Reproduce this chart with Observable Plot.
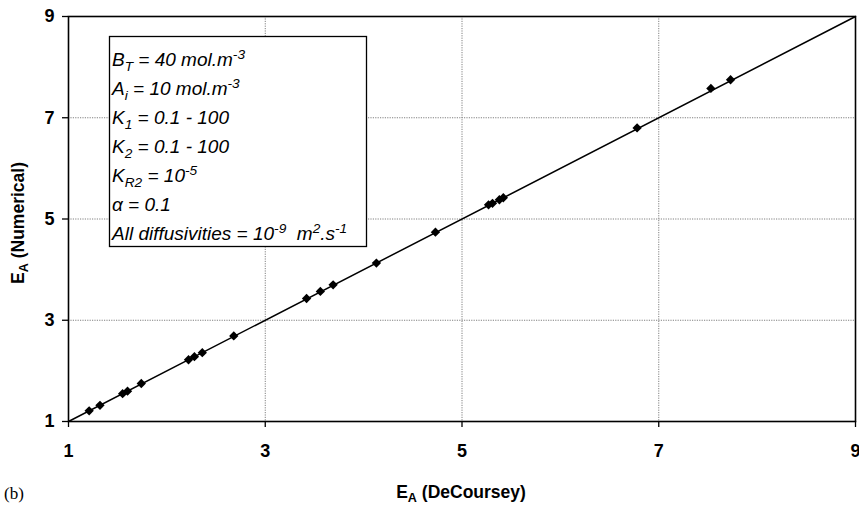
<!DOCTYPE html>
<html><head><meta charset="utf-8">
<script src="https://cdn.jsdelivr.net/npm/d3@7"></script>
<script src="https://cdn.jsdelivr.net/npm/@observablehq/plot@0.6"></script>
<style>body{margin:0;background:#fff} svg{display:block}</style>
</head><body><div id="chart"></div>
<script>
// Data
const decoursey = [1.21,1.32,1.55,1.60,1.74,2.22,2.28,2.36,2.68,3.42,3.56,3.69,4.13,4.73,5.27,5.31,5.38,5.42,6.78,7.53,7.73];
const numerical = [1.21,1.32,1.55,1.60,1.75,2.22,2.28,2.36,2.69,3.43,3.57,3.70,4.13,4.74,5.28,5.31,5.38,5.42,6.80,7.58,7.75];
const parityLine = [1, 9];
const tickValues = [1, 3, 5, 7, 9];
const gridValues = [3, 5, 7];
const xLabel = [["E",""],["A","sub"],[" (DeCoursey)",""]];
const yLabel = [["E",""],["A","sub"],[" (Numerical)",""]];
const panelTag = "(b)";
const legendLines = [
  [["B",""],["T","sub"],[" = 40 mol.m",""],["-3","sup"]],
  [["A",""],["i","sub"],[" = 10 mol.m",""],["-3","sup"]],
  [["K",""],["1","sub"],[" = 0.1 - 100",""]],
  [["K",""],["2","sub"],[" = 0.1 - 100",""]],
  [["K",""],["R2","sub"],[" = 10",""],["-5","sup"]],
  [["\u03B1 = 0.1",""]],
  [["All diffusivities = 10",""],["-9","sup"],["  m",""],["2","sup"],[".s",""],["-1","sup"]]
];

const points = decoursey.map((d, i) => ({x: d, y: numerical[i]}));
const W = 859, H = 505;
const font = "'Liberation Sans', Arial, Helvetica, sans-serif";

const chart = Plot.plot({
  width: W, height: H,
  marginLeft: 68, marginRight: 4, marginTop: 16, marginBottom: 84,
  style: {fontFamily: font, fontSize: "18px", color: "#000", background: "#fff", overflow: "visible"},
  x: {domain: [1, 9], label: null},
  y: {domain: [1, 9], label: null},
  marks: [
    Plot.gridX(gridValues, {stroke: "#808080", strokeOpacity: 1, strokeDasharray: "1.2,1.2"}),
    Plot.gridY(gridValues, {stroke: "#808080", strokeOpacity: 1, strokeDasharray: "1.2,1.2"}),
    Plot.frame({stroke: "#000", strokeWidth: 1.6}),
    Plot.line(parityLine, {x: d => d, y: d => d, stroke: "#000", strokeWidth: 1.5}),
    Plot.dot(points, {x: "x", y: "y", symbol: "diamond2", r: 4.2, fill: "#000", stroke: "none"}),
    Plot.axisX(tickValues, {tickSize: 6, tickPadding: 17, fontSize: 18, fontWeight: "bold", tickFormat: d3.format("d"), label: null, strokeWidth: 1.3}),
    Plot.axisY(tickValues, {tickSize: 6, tickPadding: 8, fontSize: 18, fontWeight: "bold", tickFormat: d3.format("d"), label: null, strokeWidth: 1.3})
  ]
});
document.getElementById("chart").appendChild(chart);

const svg = d3.select(chart);

function richText(g, segs, size) {
  segs.forEach(([t, kind], i) => {
    const prev = i > 0 ? segs[i-1][1] : "";
    let dy = 0;
    if (prev === "sub") dy -= size * 0.25;
    if (prev === "sup") dy += size * 0.38;
    if (kind === "sub") dy += size * 0.25;
    if (kind === "sup") dy -= size * 0.38;
    const ts = g.append("tspan").text(t).attr("dy", dy);
    if (kind) ts.attr("font-size", size * 0.72);
  });
}

// Legend box
const box = svg.append("g");
box.append("rect").attr("x", 109.5).attr("y", 36.5).attr("width", 257).attr("height", 210)
  .attr("fill", "#fff").attr("stroke", "#000").attr("stroke-width", 1.3);
legendLines.forEach((segs, i) => {
  const t = box.append("text").attr("x", 112).attr("y", 66 + i * 29).attr("text-anchor", "start")
    .attr("font-family", font).attr("font-style", "italic").attr("font-size", 19).attr("fill", "#000");
  richText(t, segs, 19);
});

// Axis titles
const xt = svg.append("text").attr("x", 461).attr("y", 498).attr("text-anchor", "middle")
  .attr("font-family", font).attr("font-weight", "bold").attr("font-size", 17.5);
richText(xt, xLabel, 17.5);
const yt = svg.append("text").attr("transform", "translate(24,223) rotate(-90)").attr("text-anchor", "middle")
  .attr("font-family", font).attr("font-weight", "bold").attr("font-size", 17.5);
richText(yt, yLabel, 17.5);

svg.append("text").attr("x", 4).attr("y", 499).attr("text-anchor", "start")
  .attr("font-family", "'Liberation Serif', 'Times New Roman', serif")
  .attr("font-size", 17).text(panelTag);
</script>
</body></html>
